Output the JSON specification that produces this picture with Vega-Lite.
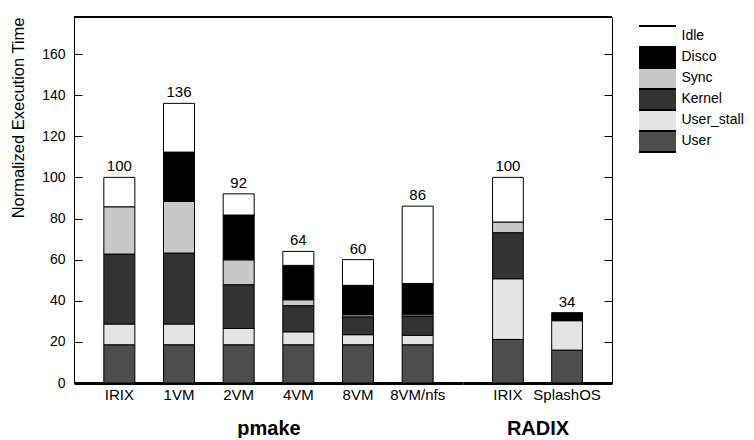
{
  "$schema": "https://vega.github.io/schema/vega-lite/v6.json",
  "padding": {"top": 16, "left": 10, "right": 0, "bottom": 0},
  "data": {
    "values": [
      {"group": "pmake", "config": "IRIX", "component": "User", "value": 18.6},
      {"group": "pmake", "config": "IRIX", "component": "User_stall", "value": 10.1},
      {"group": "pmake", "config": "IRIX", "component": "Kernel", "value": 34.0},
      {"group": "pmake", "config": "IRIX", "component": "Sync", "value": 23.0},
      {"group": "pmake", "config": "IRIX", "component": "Idle", "value": 14.3},
      {"group": "pmake", "config": "1VM", "component": "User", "value": 18.6},
      {"group": "pmake", "config": "1VM", "component": "User_stall", "value": 10.1},
      {"group": "pmake", "config": "1VM", "component": "Kernel", "value": 34.5},
      {"group": "pmake", "config": "1VM", "component": "Sync", "value": 25.1},
      {"group": "pmake", "config": "1VM", "component": "Disco", "value": 24.0},
      {"group": "pmake", "config": "1VM", "component": "Idle", "value": 23.7},
      {"group": "pmake", "config": "2VM", "component": "User", "value": 18.6},
      {"group": "pmake", "config": "2VM", "component": "User_stall", "value": 7.9},
      {"group": "pmake", "config": "2VM", "component": "Kernel", "value": 21.3},
      {"group": "pmake", "config": "2VM", "component": "Sync", "value": 12.1},
      {"group": "pmake", "config": "2VM", "component": "Disco", "value": 21.8},
      {"group": "pmake", "config": "2VM", "component": "Idle", "value": 10.3},
      {"group": "pmake", "config": "4VM", "component": "User", "value": 18.6},
      {"group": "pmake", "config": "4VM", "component": "User_stall", "value": 6.3},
      {"group": "pmake", "config": "4VM", "component": "Kernel", "value": 12.7},
      {"group": "pmake", "config": "4VM", "component": "Sync", "value": 2.9},
      {"group": "pmake", "config": "4VM", "component": "Disco", "value": 16.7},
      {"group": "pmake", "config": "4VM", "component": "Idle", "value": 6.8},
      {"group": "pmake", "config": "8VM", "component": "User", "value": 18.6},
      {"group": "pmake", "config": "8VM", "component": "User_stall", "value": 4.9},
      {"group": "pmake", "config": "8VM", "component": "Kernel", "value": 8.7},
      {"group": "pmake", "config": "8VM", "component": "Sync", "value": 1.0},
      {"group": "pmake", "config": "8VM", "component": "Disco", "value": 14.3},
      {"group": "pmake", "config": "8VM", "component": "Idle", "value": 12.5},
      {"group": "pmake", "config": "8VM/nfs", "component": "User", "value": 18.6},
      {"group": "pmake", "config": "8VM/nfs", "component": "User_stall", "value": 4.6},
      {"group": "pmake", "config": "8VM/nfs", "component": "Kernel", "value": 9.4},
      {"group": "pmake", "config": "8VM/nfs", "component": "Sync", "value": 0.9},
      {"group": "pmake", "config": "8VM/nfs", "component": "Disco", "value": 14.9},
      {"group": "pmake", "config": "8VM/nfs", "component": "Idle", "value": 37.6},
      {"group": "RADIX", "config": "IRIX", "component": "User", "value": 21.2},
      {"group": "RADIX", "config": "IRIX", "component": "User_stall", "value": 29.5},
      {"group": "RADIX", "config": "IRIX", "component": "Kernel", "value": 22.4},
      {"group": "RADIX", "config": "IRIX", "component": "Sync", "value": 5.2},
      {"group": "RADIX", "config": "IRIX", "component": "Idle", "value": 21.7},
      {"group": "RADIX", "config": "SplashOS", "component": "User", "value": 16.0},
      {"group": "RADIX", "config": "SplashOS", "component": "User_stall", "value": 14.3},
      {"group": "RADIX", "config": "SplashOS", "component": "Disco", "value": 3.9}
    ]
  },
  "transform": [
    {"calculate": "indexof(['User', 'User_stall', 'Kernel', 'Sync', 'Disco', 'Idle'], datum.component)", "as": "rank"}
  ],
  "spacing": 25,
  "bounds": "full",
  "resolve": {"scale": {"color": "shared"}},
  "hconcat": [
    {
      "spacing": 0,
      "bounds": "flush",
      "resolve": {"scale": {"color": "shared"}},
      "hconcat": [
        {
          "width": 389,
          "height": 366,
          "transform": [{"filter": "datum.group === 'pmake'"}],
          "layer": [
            {
              "mark": {"type": "bar", "stroke": "black", "strokeWidth": 1},
              "encoding": {
                "x": {
                  "field": "config", "type": "nominal", "sort": null,
                  "scale": {"paddingInner": 0.48, "paddingOuter": 0.5},
                  "axis": {"title": "pmake", "titleFontSize": 20, "titleFontWeight": "bold", "titlePadding": 16,
                           "labelFontSize": 15, "labelAngle": 0, "labelPadding": 4, "ticks": false, "domainWidth": 3}
                },
                "y": {
                  "field": "value", "type": "quantitative",
                  "scale": {"domain": [0, 178], "nice": false},
                  "axis": {"orient": "left", "values": [0, 20, 40, 60, 80, 100, 120, 140, 160],
                           "tickSize": -8, "labelPadding": 17, "labelFontSize": 14,
                           "title": "Normalized Execution Time", "titleFontSize": 16.5, "titleFontWeight": "normal",
                           "titleAnchor": "end", "titlePadding": 15}
                },
                "color": {
                  "field": "component", "type": "nominal",
                  "scale": {"domain": ["Idle", "Disco", "Sync", "Kernel", "User_stall", "User"],
                            "range": ["#ffffff", "#000000", "#c8c8c8", "#333333", "#e4e4e4", "#4d4d4d"]},
                  "legend": null
                },
                "order": {"field": "rank", "type": "quantitative"}
              }
            },
            {
              "mark": {"type": "text", "baseline": "alphabetic", "dy": -6, "fontSize": 15, "color": "black"},
              "encoding": {
                "x": {"field": "config", "type": "nominal", "sort": null},
                "y": {"aggregate": "sum", "field": "value", "type": "quantitative",
                      "axis": {"orient": "left", "values": [0, 20, 40, 60, 80, 100, 120, 140, 160],
                           "tickSize": -8, "labelPadding": 17, "labelFontSize": 14,
                           "title": "Normalized Execution Time", "titleFontSize": 16.5, "titleFontWeight": "normal",
                           "titleAnchor": "end", "titlePadding": 15}},
                "text": {"aggregate": "sum", "field": "value", "type": "quantitative", "format": ".0f"}
              }
            },
            {
              "mark": {"type": "rule", "color": "black", "strokeWidth": 1},
              "encoding": {"y": {"datum": 178, "type": "quantitative",
                      "axis": {"orient": "left", "values": [0, 20, 40, 60, 80, 100, 120, 140, 160],
                           "tickSize": -8, "labelPadding": 17, "labelFontSize": 14,
                           "title": "Normalized Execution Time", "titleFontSize": 16.5, "titleFontWeight": "normal",
                           "titleAnchor": "end", "titlePadding": 15}}}
            }
          ]
        },
        {
          "width": 149,
          "height": 366,
          "transform": [{"filter": "datum.group === 'RADIX'"}],
          "layer": [
            {
              "mark": {"type": "bar", "stroke": "black", "strokeWidth": 1},
              "encoding": {
                "x": {
                  "field": "config", "type": "nominal", "sort": null,
                  "scale": {"paddingInner": 0.48, "paddingOuter": 0.5},
                  "axis": {"title": "RADIX", "titleFontSize": 20, "titleFontWeight": "bold", "titlePadding": 16,
                           "labelFontSize": 15, "labelAngle": 0, "labelPadding": 4, "ticks": false, "domainWidth": 3}
                },
                "y": {
                  "field": "value", "type": "quantitative",
                  "scale": {"domain": [0, 178], "nice": false},
                  "axis": {"orient": "right", "values": [0, 20, 40, 60, 80, 100, 120, 140, 160],
                           "tickSize": -8, "labels": false, "title": null}
                },
                "color": {
                  "field": "component", "type": "nominal",
                  "scale": {"domain": ["Idle", "Disco", "Sync", "Kernel", "User_stall", "User"],
                            "range": ["#ffffff", "#000000", "#c8c8c8", "#333333", "#e4e4e4", "#4d4d4d"]},
                  "legend": null
                },
                "order": {"field": "rank", "type": "quantitative"}
              }
            },
            {
              "mark": {"type": "text", "baseline": "alphabetic", "dy": -6, "fontSize": 15, "color": "black"},
              "encoding": {
                "x": {"field": "config", "type": "nominal", "sort": null},
                "y": {"aggregate": "sum", "field": "value", "type": "quantitative",
                      "axis": {"orient": "right", "values": [0, 20, 40, 60, 80, 100, 120, 140, 160],
                           "tickSize": -8, "labels": false, "title": null}},
                "text": {"aggregate": "sum", "field": "value", "type": "quantitative", "format": ".0f"}
              }
            },
            {
              "mark": {"type": "rule", "color": "black", "strokeWidth": 1},
              "encoding": {"y": {"datum": 178, "type": "quantitative",
                      "axis": {"orient": "right", "values": [0, 20, 40, 60, 80, 100, 120, 140, 160],
                           "tickSize": -8, "labels": false, "title": null}}}
            }
          ]
        }
      ]
    },
    {
      "width": 37,
      "height": 135,
      "transform": [{"aggregate": [{"op": "count", "as": "n"}], "groupby": ["component"]}],
      "layer": [
        {
          "mark": {"type": "rect"},
          "encoding": {
            "y": {
              "field": "component", "type": "nominal",
              "sort": ["Idle", "Disco", "Sync", "Kernel", "User_stall", "User"],
              "scale": {"paddingInner": 0, "paddingOuter": 0.214, "align": 1},
              "axis": {"orient": "right", "title": null, "domain": false, "ticks": false,
                       "labelPadding": 5, "labelFontSize": 14}
            },
            "color": {
              "field": "component", "type": "nominal",
              "scale": {"domain": ["Idle", "Disco", "Sync", "Kernel", "User_stall", "User"],
                        "range": ["#ffffff", "#000000", "#c8c8c8", "#333333", "#e4e4e4", "#4d4d4d"]},
              "legend": null
            }
          }
        },
        {
          "mark": {"type": "rule", "color": "black", "strokeWidth": 1.8},
          "encoding": {
            "y": {
              "field": "component", "type": "nominal", "bandPosition": 0,
              "sort": ["Idle", "Disco", "Sync", "Kernel", "User_stall", "User"],
              "axis": {"orient": "right", "title": null, "domain": false, "ticks": false,
                       "labelPadding": 5, "labelFontSize": 14}
            }
          }
        },
        {
          "mark": {"type": "rule", "color": "black", "strokeWidth": 1.8},
          "encoding": {
            "y": {
              "field": "component", "type": "nominal", "bandPosition": 1,
              "sort": ["Idle", "Disco", "Sync", "Kernel", "User_stall", "User"],
              "axis": {"orient": "right", "title": null, "domain": false, "ticks": false,
                       "labelPadding": 5, "labelFontSize": 14}
            }
          }
        }
      ]
    }
  ],
  "config": {
    "font": "Liberation Sans",
    "view": {"stroke": null},
    "axis": {"grid": false, "domainColor": "black", "tickColor": "black", "labelColor": "black", "titleColor": "black"}
  }
}
